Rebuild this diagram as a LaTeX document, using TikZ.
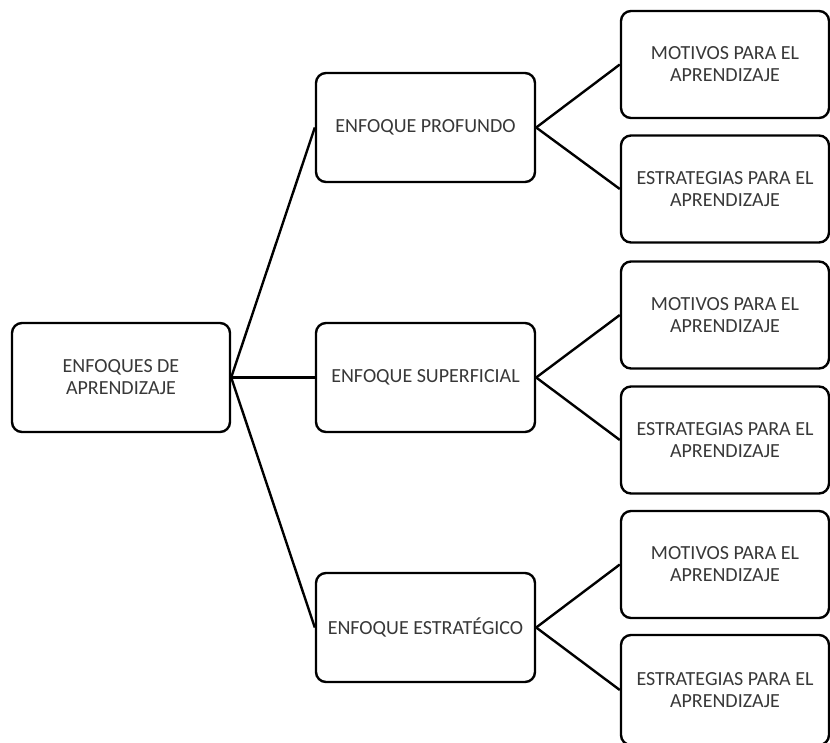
\documentclass[tikz,border=0pt]{standalone}
\usepackage{fontspec}
\setmainfont{Carlito}
\definecolor{txt}{HTML}{383838}
\begin{document}
\begin{tikzpicture}[x=1pt,y=-1pt,
  box/.style={draw=black, line width=2.4pt, rounded corners=10pt, fill=white,
    text=txt, align=center, font=\fontsize{20}{22}\selectfont, inner sep=0pt},
  rootbox/.style={box, minimum width=218pt, minimum height=109pt},
  midbox/.style={box, minimum width=219pt, minimum height=109pt},
  leafbox/.style={box, minimum width=208pt, minimum height=107pt},
  link/.style={line width=2.4pt, black}]
\useasboundingbox[fill=white] (0,0) rectangle (830,742);
\node[rootbox] (root) at (121,377.5) {ENFOQUES DE\\APRENDIZAJE};
\node[midbox] (prof) at (425.5,127.5) {ENFOQUE PROFUNDO};
\node[midbox] (sup) at (425.5,377.5) {ENFOQUE SUPERFICIAL};
\node[midbox] (est) at (425.5,627.5) {ENFOQUE ESTRATÉGICO};
\node[leafbox] (m1) at (725,64.5) {MOTIVOS PARA EL\\APRENDIZAJE};
\node[leafbox] (e1) at (725,189) {ESTRATEGIAS PARA EL\\APRENDIZAJE};
\node[leafbox] (m2) at (725,315) {MOTIVOS PARA EL\\APRENDIZAJE};
\node[leafbox] (e2) at (725,440) {ESTRATEGIAS PARA EL\\APRENDIZAJE};
\node[leafbox] (m3) at (725,564.5) {MOTIVOS PARA EL\\APRENDIZAJE};
\node[leafbox, minimum height=110pt] (e3) at (725,690) {ESTRATEGIAS PARA EL\\APRENDIZAJE};
\draw[link] (root.east) -- (prof.west);
\draw[link] (root.east) -- (sup.west);
\draw[link] (root.east) -- (est.west);
\draw[link] (prof.east) -- (m1.west);
\draw[link] (prof.east) -- (e1.west);
\draw[link] (sup.east) -- (m2.west);
\draw[link] (sup.east) -- (e2.west);
\draw[link] (est.east) -- (m3.west);
\draw[link] (est.east) -- (e3.west);
\end{tikzpicture}
\end{document}
